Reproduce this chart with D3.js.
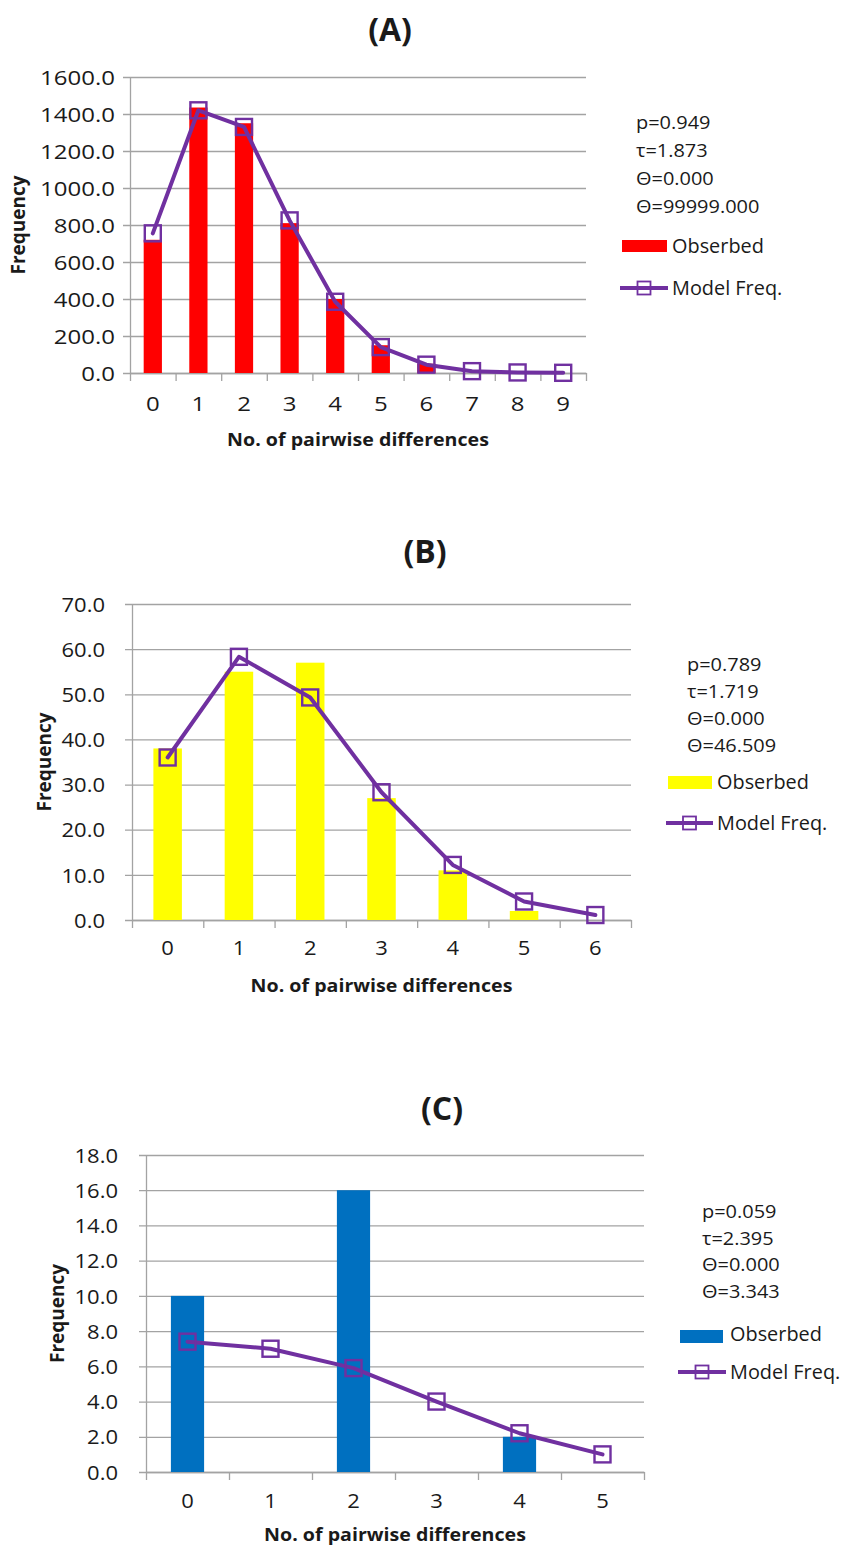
<!DOCTYPE html>
<html>
<head>
<meta charset="utf-8">
<script src="https://cdn.jsdelivr.net/npm/d3@7"></script>
<style>
  html, body { margin: 0; padding: 0; background: #fff; }
  svg { display: block; font-family: "Open Sans", "Noto Sans", sans-serif; }
</style>
</head>
<body>
<svg id="chart" width="845" height="1548"></svg>
<script>
// ---------------- DATA ----------------
const categoriesA = [0, 1, 2, 3, 4, 5, 6, 7, 8, 9];
const observedA   = [720, 1435, 1350, 810, 400, 150, 50, 0, 0, 0];
const modelA      = [755, 1420, 1330, 825, 385, 140, 45, 10, 3, 1];
const yTicksA     = [0, 200, 400, 600, 800, 1000, 1200, 1400, 1600];
const statsA      = ["p=0.949", "τ=1.873", "Θ=0.000", "Θ=99999.000"];

const categoriesB = [0, 1, 2, 3, 4, 5, 6];
const observedB   = [38, 55, 57, 27, 11, 2, 0];
const modelB      = [36, 58.3, 49.3, 28.3, 12.2, 4.1, 1.1];
const yTicksB     = [0, 10, 20, 30, 40, 50, 60, 70];
const statsB      = ["p=0.789", "τ=1.719", "Θ=0.000", "Θ=46.509"];

const categoriesC = [0, 1, 2, 3, 4, 5];
const observedC   = [10, 0, 16, 0, 2, 0];
const modelC      = [7.4, 7.0, 5.9, 4.0, 2.2, 1.0];
const yTicksC     = [0, 2, 4, 6, 8, 10, 12, 14, 16, 18];
const statsC      = ["p=0.059", "τ=2.395", "Θ=0.000", "Θ=3.343"];

const titles      = ["(A)", "(B)", "(C)"];
const xAxisTitle  = "No. of pairwise differences";
const yAxisTitle  = "Frequency";
const legendNames = ["Obserbed", "Model Freq."];

// ---------------- STYLE / LAYOUT ----------------
const LINE_COLOR = "#7030a0";
const GRID_COLOR = "#a3a3a3";
const TEXT_COLOR = "#1a1a1a";

const panels = [
  { cats: categoriesA, obs: observedA, model: modelA, ticks: yTicksA, stats: statsA, title: titles[0],
    color: "#ff0000", x0: 130, x1: 586, yTop: 77, yBot: 373,
    titleX: 390, titleY: 41, yLabX: 25, tickGap: 15, tickSx: 1.2,
    xTickY: 411, xLabY: 446,
    statX: 636, statY: 129, statStep: 28,
    swX: 622, swW: 45, swY: 240, swH: 12, obsTextY: 253,
    mlX: 620, mlW: 48, mlY: 288, mlTextY: 295, legTextX: 672 },
  { cats: categoriesB, obs: observedB, model: modelB, ticks: yTicksB, stats: statsB, title: titles[1],
    color: "#ffff00", x0: 132, x1: 631, yTop: 604, yBot: 920,
    titleX: 425, titleY: 563, yLabX: 51, tickGap: 27, tickSx: 1.1,
    xTickY: 955, xLabY: 992,
    statX: 687, statY: 671, statStep: 27,
    swX: 668, swW: 44, swY: 776, swH: 13, obsTextY: 789,
    mlX: 666, mlW: 47, mlY: 823, mlTextY: 830, legTextX: 717 },
  { cats: categoriesC, obs: observedC, model: modelC, ticks: yTicksC, stats: statsC, title: titles[2],
    color: "#0070c0", x0: 146, x1: 644, yTop: 1155, yBot: 1472,
    titleX: 442, titleY: 1120, yLabX: 64, tickGap: 28, tickSx: 1.1,
    xTickY: 1508, xLabY: 1541,
    statX: 702, statY: 1218, statStep: 26.7,
    swX: 680, swW: 43, swY: 1330, swH: 13, obsTextY: 1341,
    mlX: 678, mlW: 48, mlY: 1372, mlTextY: 1379, legTextX: 730 }
];

const svg = d3.select("#chart");

function txt(parent, x, y, s, o = {}) {
  let tr = `translate(${x},${y}) scale(${o.sx || 1},1)`;
  if (o.rot) tr += ` rotate(${o.rot})`;
  return parent.append("text")
    .attr("transform", tr)
    .attr("text-anchor", o.anchor || "start")
    .attr("font-size", o.size || 19)
    .attr("font-weight", o.weight || "normal")
    .attr("fill", TEXT_COLOR)
    .text(s);
}

panels.forEach(p => {
  const g = svg.append("g");
  const n = p.cats.length;
  const yMax = p.ticks[p.ticks.length - 1];

  const y = d3.scaleLinear().domain([0, yMax]).range([p.yBot, p.yTop]);
  const x = d3.scaleBand().domain(p.cats).range([p.x0, p.x1]).paddingInner(0.6).paddingOuter(0.3);
  const xEdge = d3.scaleLinear().domain([0, n]).range([p.x0, p.x1]);
  const cx = d => x(d) + x.bandwidth() / 2;

  // gridlines (with the small outer ticks to the left of the axis)
  const grid = g.append("g").attr("transform", `translate(${p.x1},0)`)
    .call(d3.axisLeft(y).tickValues(p.ticks).tickSize(p.x1 - p.x0 + 7).tickFormat(""));
  grid.select(".domain").remove();
  grid.selectAll(".tick line").attr("stroke", GRID_COLOR).attr("stroke-width", 1.3);

  // y axis (vertical line + labels)
  const ya = g.append("g").attr("transform", `translate(${p.x0},0)`)
    .call(d3.axisLeft(y).tickValues(p.ticks).tickSize(0).tickSizeOuter(0).tickFormat(d3.format(".1f")));
  ya.select(".domain").attr("stroke", GRID_COLOR).attr("stroke-width", 1.3);
  ya.selectAll(".tick text")
    .attr("x", null).attr("dy", "0.36em")
    .attr("transform", `translate(${-p.tickGap},0) scale(${p.tickSx},1)`)
    .attr("font-size", 20).attr("font-family", "Open Sans").attr("fill", TEXT_COLOR);

  // x axis line + boundary ticks
  const xa = g.append("g").attr("transform", `translate(0,${p.yBot})`)
    .call(d3.axisBottom(xEdge).ticks(n).tickSize(8).tickSizeOuter(0).tickFormat(""));
  xa.select(".domain").attr("stroke", GRID_COLOR).attr("stroke-width", 1.3);
  xa.selectAll(".tick line").attr("stroke", GRID_COLOR).attr("stroke-width", 1.3);

  // x tick labels via band axis
  const xl = g.append("g").attr("transform", `translate(0,${p.xTickY})`)
    .call(d3.axisBottom(x).tickSize(0));
  xl.select(".domain").remove();
  xl.selectAll(".tick text").attr("y", 0).attr("dy", 0)
    .attr("transform", `scale(${p.tickSx},1)`)
    .attr("font-size", 20).attr("font-family", "Open Sans").attr("fill", TEXT_COLOR);
  xl.selectAll(".tick").each(function(d) {
    d3.select(this).attr("transform", `translate(${cx(d)},0)`);
  });

  // bars
  g.append("g").selectAll("rect").data(p.cats).join("rect")
    .attr("x", d => x(d))
    .attr("width", x.bandwidth())
    .attr("y", (d, i) => y(p.obs[i]))
    .attr("height", (d, i) => p.yBot - y(p.obs[i]))
    .attr("fill", p.color);

  // model line
  const line = d3.line().x((d, i) => cx(p.cats[i])).y(d => y(d));
  g.append("path").datum(p.model).attr("d", line)
    .attr("fill", "none").attr("stroke", LINE_COLOR).attr("stroke-width", 4)
    .attr("stroke-linejoin", "round").attr("stroke-linecap", "round");

  // markers
  const ms = 16;
  g.append("g").selectAll("rect").data(p.model).join("rect")
    .attr("x", (d, i) => cx(p.cats[i]) - ms / 2)
    .attr("y", d => y(d) - ms / 2)
    .attr("width", ms).attr("height", ms)
    .attr("fill", "none").attr("stroke", LINE_COLOR).attr("stroke-width", 2.4);

  // title
  txt(g, p.titleX, p.titleY, p.title, { size: 32, weight: "bold", anchor: "middle" });

  // axis titles
  txt(g, (p.x0 + p.x1) / 2, p.xLabY, xAxisTitle, { size: 18, weight: "bold", anchor: "middle", sx: 1.09 });
  txt(g, p.yLabX, (p.yTop + p.yBot) / 2, yAxisTitle, { size: 19, weight: "bold", anchor: "middle", rot: -90 });

  // stats text
  p.stats.forEach((s, i) => txt(g, p.statX, p.statY + i * p.statStep, s, { size: 19, sx: 1.05 }));

  // legend
  g.append("rect").attr("x", p.swX).attr("y", p.swY).attr("width", p.swW).attr("height", p.swH).attr("fill", p.color);
  txt(g, p.legTextX, p.obsTextY, legendNames[0], { size: 19.5, sx: 1.02 });
  g.append("line").attr("x1", p.mlX).attr("x2", p.mlX + p.mlW).attr("y1", p.mlY).attr("y2", p.mlY)
    .attr("stroke", LINE_COLOR).attr("stroke-width", 4);
  const lm = 13;
  g.append("rect").attr("x", p.mlX + p.mlW / 2 - lm / 2).attr("y", p.mlY - lm / 2)
    .attr("width", lm).attr("height", lm).attr("fill", "none")
    .attr("stroke", LINE_COLOR).attr("stroke-width", 1.8);
  txt(g, p.legTextX, p.mlTextY, legendNames[1], { size: 19.5, sx: 1.02 });
});
</script>
</body>
</html>
